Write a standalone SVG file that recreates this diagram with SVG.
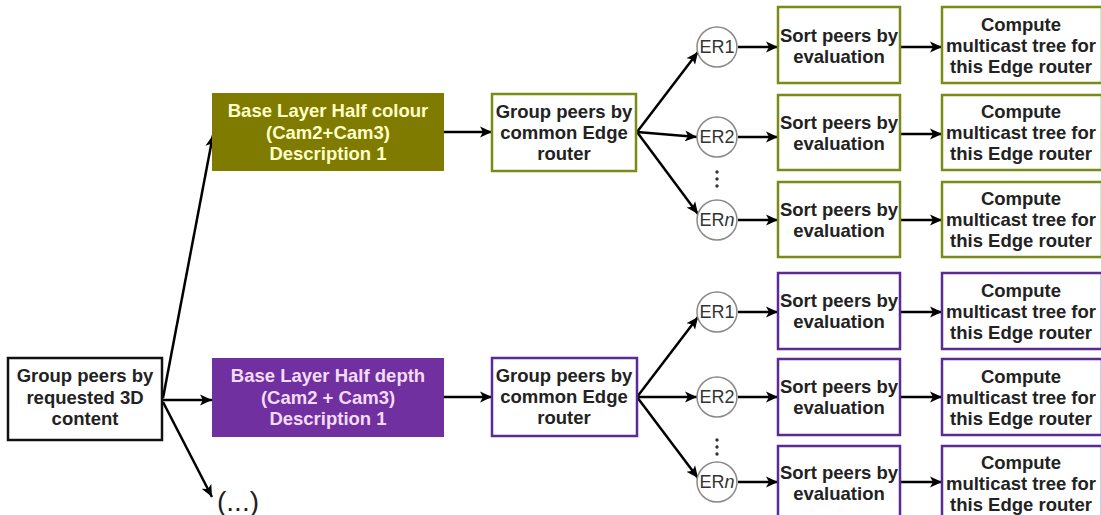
<svg xmlns="http://www.w3.org/2000/svg" width="1101" height="515" viewBox="0 0 1101 515">
  <defs>
    <marker id="arrow" viewBox="0 0 10 10" refX="10" refY="5" markerWidth="12" markerHeight="12" markerUnits="userSpaceOnUse" orient="auto">
      <path d="M0,0.5 L10,5 L0,9.5 L2.5,5 Z" fill="#000"/>
    </marker>
    <style>
      .t { font-family: "Liberation Sans", Arial, sans-serif; font-weight: bold; font-size: 18.5px; text-anchor: middle; fill: #222; }
      .olive-fill { fill: #7f7a00; }
      .purple-fill { fill: #7030a0; }
      .t-olive { fill: #ffffc8; }
      .t-purple { fill: #f3dcf8; }
      .box { fill: #fff; stroke-width: 2.5; }
      .box-o { stroke: #7c8a18; }
      .box-p { stroke: #5b2a92; }
      .box-k { stroke: #111; }
      .er { fill: #fff; stroke: #8a8a8a; stroke-width: 1.5; }
      .er-t { font-family: "Liberation Sans", Arial, sans-serif; font-size: 18px; text-anchor: middle; fill: #333; }
      .dot { fill: #333; }
      .conn line { stroke: #000; stroke-width: 2.5; marker-end: url(#arrow); }
    </style>
  </defs>

  <rect width="1101" height="515" fill="#fff"/>

  <!-- connectors -->
  <g class="conn" id="connectors">
    <!-- root fan-out -->
    <line x1="163" y1="398" x2="213" y2="135"/>
    <line x1="163" y1="400" x2="212" y2="400"/>
    <line x1="163" y1="402" x2="212" y2="497"/>
    <!-- colour branch -->
    <line x1="444" y1="132" x2="492" y2="132"/>
    <line x1="637" y1="132" x2="698" y2="52"/>
    <line x1="637" y1="132" x2="697" y2="137"/>
    <line x1="637" y1="132" x2="698" y2="214"/>
    <line x1="738" y1="47" x2="778" y2="47"/>
    <line x1="738" y1="137" x2="778" y2="137"/>
    <line x1="738" y1="220" x2="778" y2="220"/>
    <line x1="901" y1="47" x2="942" y2="47"/>
    <line x1="901" y1="134" x2="942" y2="134"/>
    <line x1="901" y1="220" x2="942" y2="220"/>
    <!-- depth branch -->
    <line x1="444" y1="397" x2="492" y2="397"/>
    <line x1="637" y1="397" x2="698" y2="317"/>
    <line x1="637" y1="397" x2="697" y2="397"/>
    <line x1="637" y1="397" x2="698" y2="478"/>
    <line x1="738" y1="312" x2="778" y2="312"/>
    <line x1="738" y1="397" x2="778" y2="397"/>
    <line x1="738" y1="482" x2="778" y2="482"/>
    <line x1="901" y1="312" x2="942" y2="312"/>
    <line x1="901" y1="397" x2="942" y2="397"/>
    <line x1="901" y1="482" x2="942" y2="482"/>
  </g>

  <!-- root -->
  <g id="root">
    <rect class="box box-k" x="8" y="358" width="154" height="82"/>
    <text class="t" x="85" y="382">Group peers by<tspan x="85" dy="21.5">requested 3D</tspan><tspan x="85" dy="21.5">content</tspan></text>
  </g>

  <g id="more">
    <text x="217" y="511" font-family="'Liberation Sans', Arial, sans-serif" font-size="28" fill="#222">(...)</text>
  </g>

  <!-- colour layer -->
  <g id="layer-colour">
    <rect class="olive-fill" x="212" y="93" width="232" height="78"/>
    <text class="t t-olive" x="328" y="117">Base Layer Half colour<tspan x="328" dy="21.5">(Cam2+Cam3)</tspan><tspan x="328" dy="21.5">Description 1</tspan></text>
  </g>

  <g id="group-colour">
    <rect class="box box-o" x="492" y="94" width="144" height="77"/>
    <text class="t" x="564" y="118">Group peers by<tspan x="564" dy="21">common Edge</tspan><tspan x="564" dy="21">router</tspan></text>
  </g>

  <g id="er1-colour">
    <circle class="er" cx="717" cy="47" r="20"/>
    <text class="er-t" x="717" y="53">ER1</text>
  </g>
  <g id="er2-colour">
    <circle class="er" cx="717" cy="137" r="20"/>
    <text class="er-t" x="717" y="143">ER2</text>
  </g>
  <g id="ern-colour">
    <circle class="er" cx="717" cy="220" r="20"/>
    <text class="er-t" x="717" y="226">ER<tspan font-style="italic">n</tspan></text>
  </g>
  <g id="dots-colour">
    <circle class="dot" cx="717" cy="172" r="1.7"/>
    <circle class="dot" cx="717" cy="179" r="1.7"/>
    <circle class="dot" cx="717" cy="186" r="1.7"/>
  </g>

  <g id="sort1-colour">
    <rect class="box box-o" x="778" y="7" width="122" height="76"/>
    <text class="t" x="839" y="42">Sort peers by<tspan x="839" dy="21">evaluation</tspan></text>
  </g>
  <g id="sort2-colour">
    <rect class="box box-o" x="778" y="95" width="122" height="75"/>
    <text class="t" x="839" y="129">Sort peers by<tspan x="839" dy="21">evaluation</tspan></text>
  </g>
  <g id="sort3-colour">
    <rect class="box box-o" x="778" y="182" width="122" height="75"/>
    <text class="t" x="839" y="216">Sort peers by<tspan x="839" dy="21">evaluation</tspan></text>
  </g>

  <g id="tree1-colour">
    <rect class="box box-o" x="942" y="7" width="160" height="76"/>
    <text class="t" x="1021" y="31">Compute<tspan x="1021" dy="21">multicast tree for</tspan><tspan x="1021" dy="21">this Edge router</tspan></text>
  </g>
  <g id="tree2-colour">
    <rect class="box box-o" x="942" y="95" width="160" height="75"/>
    <text class="t" x="1021" y="118">Compute<tspan x="1021" dy="21">multicast tree for</tspan><tspan x="1021" dy="21">this Edge router</tspan></text>
  </g>
  <g id="tree3-colour">
    <rect class="box box-o" x="942" y="182" width="160" height="75"/>
    <text class="t" x="1021" y="205">Compute<tspan x="1021" dy="21">multicast tree for</tspan><tspan x="1021" dy="21">this Edge router</tspan></text>
  </g>

  <!-- depth layer -->
  <g id="layer-depth">
    <rect class="purple-fill" x="212" y="358" width="232" height="79"/>
    <text class="t t-purple" x="328" y="382">Base Layer Half depth<tspan x="328" dy="21.5">(Cam2 + Cam3)</tspan><tspan x="328" dy="21.5">Description 1</tspan></text>
  </g>

  <g id="group-depth">
    <rect class="box box-p" x="492" y="358" width="145" height="78"/>
    <text class="t" x="564" y="382">Group peers by<tspan x="564" dy="21">common Edge</tspan><tspan x="564" dy="21">router</tspan></text>
  </g>

  <g id="er1-depth">
    <circle class="er" cx="717" cy="312" r="20"/>
    <text class="er-t" x="717" y="318">ER1</text>
  </g>
  <g id="er2-depth">
    <circle class="er" cx="717" cy="397" r="20"/>
    <text class="er-t" x="717" y="403">ER2</text>
  </g>
  <g id="ern-depth">
    <circle class="er" cx="717" cy="482" r="20"/>
    <text class="er-t" x="717" y="488">ER<tspan font-style="italic">n</tspan></text>
  </g>
  <g id="dots-depth">
    <circle class="dot" cx="717" cy="440" r="1.7"/>
    <circle class="dot" cx="717" cy="447" r="1.7"/>
    <circle class="dot" cx="717" cy="454" r="1.7"/>
  </g>

  <g id="sort1-depth">
    <rect class="box box-p" x="778" y="273" width="122" height="76"/>
    <text class="t" x="839" y="307">Sort peers by<tspan x="839" dy="21">evaluation</tspan></text>
  </g>
  <g id="sort2-depth">
    <rect class="box box-p" x="778" y="359" width="122" height="76"/>
    <text class="t" x="839" y="393">Sort peers by<tspan x="839" dy="21">evaluation</tspan></text>
  </g>
  <g id="sort3-depth">
    <rect class="box box-p" x="778" y="446" width="122" height="76"/>
    <text class="t" x="839" y="479">Sort peers by<tspan x="839" dy="21">evaluation</tspan></text>
  </g>

  <g id="tree1-depth">
    <rect class="box box-p" x="942" y="273" width="160" height="76"/>
    <text class="t" x="1021" y="297">Compute<tspan x="1021" dy="21">multicast tree for</tspan><tspan x="1021" dy="21">this Edge router</tspan></text>
  </g>
  <g id="tree2-depth">
    <rect class="box box-p" x="942" y="359" width="160" height="76"/>
    <text class="t" x="1021" y="383">Compute<tspan x="1021" dy="21">multicast tree for</tspan><tspan x="1021" dy="21">this Edge router</tspan></text>
  </g>
  <g id="tree3-depth">
    <rect class="box box-p" x="942" y="446" width="160" height="76"/>
    <text class="t" x="1021" y="469">Compute<tspan x="1021" dy="21">multicast tree for</tspan><tspan x="1021" dy="21">this Edge router</tspan></text>
  </g>
</svg>
